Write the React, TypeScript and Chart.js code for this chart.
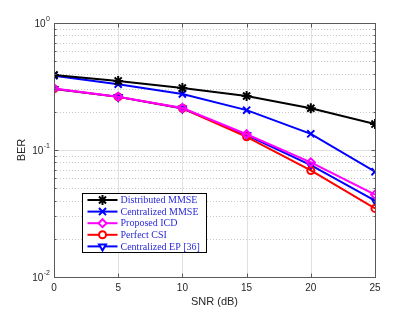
import React, { useEffect, useRef } from "react";
import { Chart, registerables } from "chart.js";
import { drawPoint } from "chart.js/helpers";

Chart.register(...registerables);

const snr = [0, 5, 10, 15, 20, 25];
const xTicks = [0, 5, 10, 15, 20, 25];
const yDecades = [0.01, 0.1, 1];
const yDecadeLabels = [["10", "-2"], ["10", "-1"], ["10", "0"]];

const distributedMMSE = [0.39, 0.35, 0.308, 0.266, 0.213, 0.16];
const centralizedMMSE = [0.385, 0.33, 0.276, 0.206, 0.134, 0.0675];
const proposedICD = [0.305, 0.263, 0.214, 0.133, 0.08, 0.0445];
const perfectCSI = [0.303, 0.262, 0.213, 0.127, 0.069, 0.0347];
const centralizedEP = [0.302, 0.262, 0.212, 0.131, 0.076, 0.04];

const seriesNames = [
  "Distributed MMSE",
  "Centralized MMSE",
  "Proposed ICD",
  "Perfect CSI",
  "Centralized EP [36]",
];

const FONT = "'Liberation Sans', Arial, sans-serif";

const decorPlugin = {
  id: "decor",
  beforeDatasetsDraw(chart: any) {
    const { ctx, chartArea: a, scales } = chart;
    const xs = scales.x;
    const ys = scales.y;
    ctx.save();
    ctx.fillStyle = "#fff";
    ctx.fillRect(a.left, a.top, a.right - a.left, a.bottom - a.top);
    // minor dotted grid
    ctx.strokeStyle = "#c8c8c8";
    ctx.lineWidth = 1;
    ctx.setLineDash([1, 2]);
    for (let d = 0; d < yDecades.length - 1; d++) {
      for (let m = 2; m <= 9; m++) {
        const y = Math.round(ys.getPixelForValue(yDecades[d] * m)) + 0.5;
        ctx.beginPath();
        ctx.moveTo(a.left, y);
        ctx.lineTo(a.right, y);
        ctx.stroke();
      }
    }
    ctx.setLineDash([]);
    ctx.strokeStyle = "#e0e0e0";
    for (const v of xTicks) {
      const x = Math.round(xs.getPixelForValue(v)) + 0.5;
      ctx.beginPath();
      ctx.moveTo(x, a.top);
      ctx.lineTo(x, a.bottom);
      ctx.stroke();
    }
    for (const v of yDecades) {
      const y = Math.round(ys.getPixelForValue(v)) + 0.5;
      ctx.beginPath();
      ctx.moveTo(a.left, y);
      ctx.lineTo(a.right, y);
      ctx.stroke();
    }
    ctx.restore();
  },
  afterDatasetsDraw(chart: any) {
    const { ctx, chartArea: a, scales } = chart;
    const xs = scales.x;
    const ys = scales.y;
    ctx.save();
    // axis box
    ctx.strokeStyle = "#5a5a5a";
    ctx.lineWidth = 1;
    const L = Math.round(a.left) + 0.5;
    const R = Math.round(a.right) + 0.5;
    const T = Math.round(a.top) + 0.5;
    const B = Math.round(a.bottom) + 0.5;
    ctx.strokeRect(L, T, R - L, B - T);
    // ticks
    ctx.beginPath();
    for (const v of xTicks) {
      const x = Math.round(xs.getPixelForValue(v)) + 0.5;
      ctx.moveTo(x, B);
      ctx.lineTo(x, B - 4);
      ctx.moveTo(x, T);
      ctx.lineTo(x, T + 4);
    }
    for (let d = 0; d < yDecades.length; d++) {
      const y0 = Math.round(ys.getPixelForValue(yDecades[d])) + 0.5;
      ctx.moveTo(L, y0);
      ctx.lineTo(L + 4, y0);
      ctx.moveTo(R, y0);
      ctx.lineTo(R - 4, y0);
      if (d < yDecades.length - 1) {
        for (let m = 2; m <= 9; m++) {
          const y = Math.round(ys.getPixelForValue(yDecades[d] * m)) + 0.5;
          ctx.moveTo(L, y);
          ctx.lineTo(L + 2, y);
          ctx.moveTo(R, y);
          ctx.lineTo(R - 2, y);
        }
      }
    }
    ctx.stroke();

    // tick labels
    ctx.fillStyle = "#262626";
    ctx.font = `10px ${FONT}`;
    ctx.textAlign = "center";
    ctx.textBaseline = "middle";
    for (const v of xTicks) {
      ctx.fillText(String(v), xs.getPixelForValue(v), a.bottom + 11);
    }
    for (let i = 0; i < yDecades.length; i++) {
      const y = ys.getPixelForValue(yDecades[i]);
      const [base, exp] = yDecadeLabels[i];
      ctx.font = `7px ${FONT}`;
      ctx.textAlign = "right";
      ctx.textBaseline = "middle";
      const ex = a.left - 4;
      ctx.fillText(exp, ex, y - 4);
      const ew = ctx.measureText(exp).width;
      ctx.font = `10px ${FONT}`;
      ctx.fillText(base, ex - ew - 0.5, y + 1);
    }
    // axis titles
    ctx.font = `11px ${FONT}`;
    ctx.textAlign = "center";
    ctx.textBaseline = "middle";
    ctx.fillText("SNR (dB)", (a.left + a.right) / 2, a.bottom + 25);
    ctx.save();
    ctx.translate(22, (a.top + a.bottom) / 2);
    ctx.rotate(-Math.PI / 2);
    ctx.fillText("BER", 0, 0);
    ctx.restore();

    // legend
    const lx = 82.5;
    const ly = 193.5;
    const lw = 124;
    const lh = 59;
    ctx.fillStyle = "#fff";
    ctx.fillRect(lx, ly, lw, lh);
    ctx.strokeStyle = "#000";
    ctx.lineWidth = 1;
    ctx.strokeRect(lx, ly, lw, lh);
    const datasets = chart.data.datasets;
    for (let i = 0; i < datasets.length; i++) {
      const ds = datasets[i];
      const y = ly + 6.5 + i * 11.6;
      ctx.strokeStyle = ds.borderColor;
      ctx.lineWidth = 2;
      ctx.beginPath();
      ctx.moveTo(lx + 5, y);
      ctx.lineTo(lx + 35, y);
      ctx.stroke();
      ctx.lineWidth = 2;
      ctx.strokeStyle = ds.pointBorderColor;
      ctx.fillStyle = ds.pointBackgroundColor === "rgba(0,0,0,0)" ? "#ffffff" : ds.pointBackgroundColor;
      drawPoint(
        ctx,
        { pointStyle: ds.pointStyle, radius: ds.pointRadius, rotation: ds.pointRotation || 0, borderWidth: 2 } as any,
        lx + 20,
        y
      );
      ctx.fillStyle = "#2a2ad8";
      ctx.font = "10px 'Liberation Serif', 'Times New Roman', serif";
      ctx.textAlign = "left";
      ctx.textBaseline = "middle";
      ctx.fillText(seriesNames[i], lx + 38, y + 0.5);
    }
    ctx.restore();
  },
};

export default function App() {
  const ref = useRef<HTMLCanvasElement>(null);
  useEffect(() => {
    document.body.style.margin = "0";
    const mk = (data: number[], color: string, style: string, fill: boolean, radius: number, rot = 0) => ({
      data,
      borderColor: color,
      backgroundColor: color,
      pointBackgroundColor: fill ? color : "rgba(0,0,0,0)",
      pointBorderColor: color,
      pointStyle: style,
      pointRadius: radius,
      pointBorderWidth: 2,
      pointRotation: rot,
      borderWidth: 2,
      tension: 0,
      fill: false,
    });
    const chart = new Chart(ref.current!, {
      type: "line",
      data: {
        labels: snr,
        datasets: [
          mk(distributedMMSE, "#000000", "star", true, 5),
          mk(centralizedMMSE, "#0000ff", "crossRot", true, 5),
          mk(proposedICD, "#ff00ff", "rectRot", false, 4),
          mk(perfectCSI, "#ff0000", "circle", false, 3.5),
          mk(centralizedEP, "#0000ff", "triangle", false, 4, 180),
        ].map((d) => ({ ...d, data: snr.map((x, j) => ({ x, y: d.data[j] })) })),
      },
      plugins: [decorPlugin],
      options: {
        responsive: false,
        animation: false,
        events: [],
        layout: { padding: { left: 54, top: 23, right: 40, bottom: 35 } },
        plugins: { legend: { display: false }, tooltip: { enabled: false } },
        scales: {
          x: { type: "linear", min: 0, max: 25, display: false },
          y: { type: "logarithmic", min: 0.01, max: 1, display: false },
        },
      },
    } as any);
    return () => chart.destroy();
  }, []);
  return <canvas ref={ref} width={415} height={312} style={{ display: "block" }} />;
}
